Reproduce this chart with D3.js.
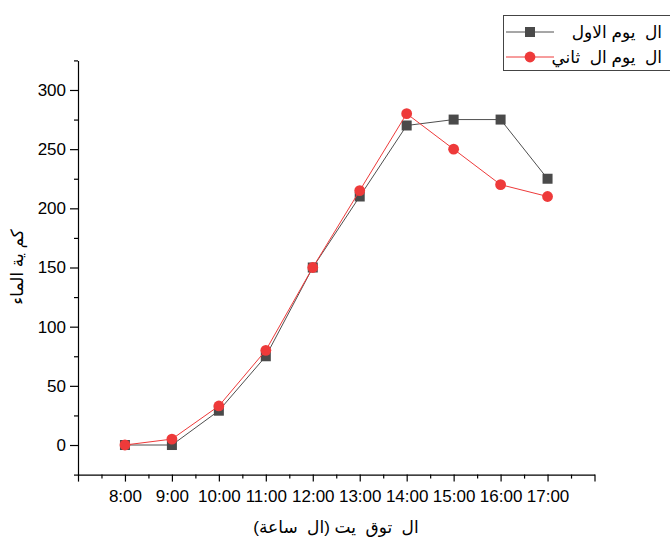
<!DOCTYPE html>
<html>
<head>
<meta charset="utf-8">
<script src="https://cdn.jsdelivr.net/npm/d3@7"></script>
<style>
  body { margin: 0; background: #fff; }
  svg text { font-family: "Liberation Sans", Arial, "DejaVu Sans", sans-serif; white-space: pre; }
</style>
</head>
<body>
<svg id="chart"></svg>
<script>
// hours on the x axis (8:00 .. 17:00)
var hours = [8, 9, 10, 11, 12, 13, 14, 15, 16, 17];
var dayOne = [0, 0, 29, 75, 150, 210, 270, 275, 275, 225];
var dayTwo = [0, 5, 33, 80, 150, 215, 280, 250, 220, 210];
var seriesNames = ["ال  يوم الاول", "ال  يوم ال  ثاني"];
var yTicks = [0, 50, 100, 150, 200, 250, 300];
var xLabel = "ال  توق  يت (ال  ساعة)";
var yLabel = "كم ية الماء";

var width = 670, height = 538;
var svg = d3.select("#chart").attr("width", width).attr("height", height);

var x = d3.scaleLinear().domain([7, 18]).range([78, 594.5]);
var y = d3.scaleLinear().domain([-25, 325]).range([474.6, 60.4]);

var fmt = function (d) { return d + ":00"; };

// minor ticks first, then the major axes on top
svg.append("g")
    .attr("transform", "translate(0,474.6)")
    .call(d3.axisBottom(x).tickValues(d3.range(7.5, 18, 1)).tickSize(4).tickFormat(""))
    .call(function (g) { g.select(".domain").remove(); });

svg.append("g")
    .attr("transform", "translate(78,0)")
    .call(d3.axisLeft(y).tickValues(d3.range(-25, 326, 50)).tickSize(4).tickFormat(""))
    .call(function (g) { g.select(".domain").remove(); });

var xAxis = svg.append("g")
    .attr("transform", "translate(0,474.6)")
    .call(d3.axisBottom(x)
        .tickValues(d3.range(7, 19))
        .tickSize(7)
        .tickSizeOuter(0)
        .tickPadding(6)
        .tickFormat(function (d) { return (d >= 8 && d <= 17) ? fmt(d) : ""; }));

var yAxis = svg.append("g")
    .attr("transform", "translate(78,0)")
    .call(d3.axisLeft(y)
        .tickValues(yTicks)
        .tickSize(8)
        .tickSizeOuter(0)
        .tickPadding(4));

svg.selectAll(".tick text").attr("font-size", 17).attr("fill", "#000")
    .attr("font-family", "'Liberation Sans', Arial, sans-serif");
svg.selectAll(".domain, .tick line").attr("stroke", "#000").attr("stroke-width", 1.2);
xAxis.selectAll(".tick text").attr("dy", "0.85em");

// axis titles
svg.append("text")
    .attr("x", 336)
    .attr("y", 533)
    .attr("text-anchor", "middle")
    .attr("font-size", 17)
    .text(xLabel);

svg.append("text")
    .attr("transform", "translate(23,267) rotate(-90)")
    .attr("text-anchor", "middle")
    .attr("font-size", 17)
    .text(yLabel);

var series = [
    {name: seriesNames[0], values: dayOne, color: "#4a4a4a", line: "#4f4f4f", shape: "square"},
    {name: seriesNames[1], values: dayTwo, color: "#ee3a3a", line: "#ee3a3a", shape: "circle"}
];

var line = d3.line()
    .x(function (d) { return x(d[0]); })
    .y(function (d) { return y(d[1]); });

function drawMarker(g, shape, color, cx, cy) {
    if (shape === "square") {
        g.append("rect")
            .attr("x", cx - 5).attr("y", cy - 5)
            .attr("width", 10).attr("height", 10)
            .attr("fill", color);
    } else {
        g.append("circle")
            .attr("cx", cx).attr("cy", cy)
            .attr("r", 5.4)
            .attr("fill", color);
    }
}

series.forEach(function (s) {
    var pts = hours.map(function (h, i) { return [h, s.values[i]]; });
    var g = svg.append("g");
    g.append("path")
        .attr("d", line(pts))
        .attr("fill", "none")
        .attr("stroke", s.line)
        .attr("stroke-width", 1);
    pts.forEach(function (p) {
        drawMarker(g, s.shape, s.color, x(p[0]), y(p[1]));
    });
});

// legend
var legend = svg.append("g");
legend.append("rect")
    .attr("x", 503.5).attr("y", 15.5)
    .attr("width", 180).attr("height", 55)
    .attr("fill", "#fff")
    .attr("stroke", "#444")
    .attr("stroke-width", 1);

series.forEach(function (s, i) {
    var ly = 32 + i * 25;
    legend.append("line")
        .attr("x1", 506).attr("x2", 554)
        .attr("y1", ly).attr("y2", ly)
        .attr("stroke", s.line)
        .attr("stroke-width", 1);
    drawMarker(legend, s.shape, s.color, 530, ly);
    legend.append("text")
        .attr("x", 662)
        .attr("y", ly + 6)
        .attr("text-anchor", "end")
        .attr("font-size", 17)
        .text(s.name);
});
</script>
</body>
</html>
